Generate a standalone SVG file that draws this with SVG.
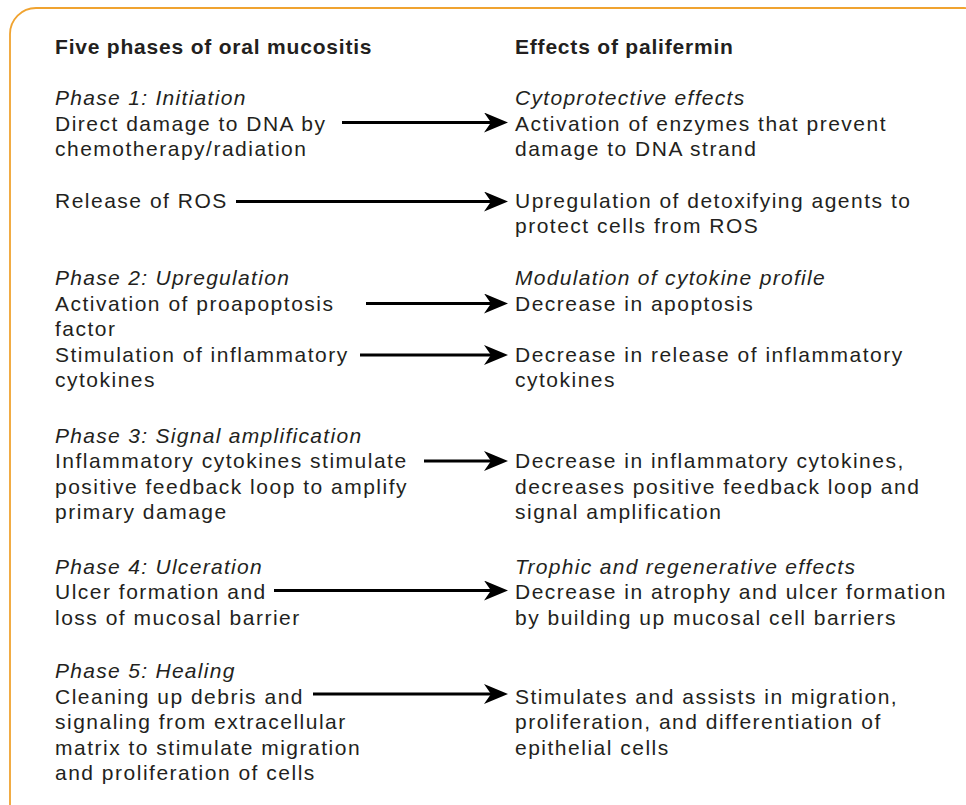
<svg xmlns="http://www.w3.org/2000/svg" width="966" height="805" viewBox="0 0 966 805">
<style>
text{font-family:"Liberation Sans",Arial,sans-serif;font-size:21px;fill:#231F20;letter-spacing:1.5px}
.h{font-weight:bold;letter-spacing:0.8px}
.i{font-style:italic;letter-spacing:1.3px}
.c{stroke:#000;stroke-width:3;fill:none;marker-end:url(#ah)}
</style>
<defs>
<marker id="ah" markerUnits="userSpaceOnUse" markerWidth="26" markerHeight="22" refX="16" refY="10" orient="auto" viewBox="0 0 26 22">
<path d="M0,0 L24,10 L0,20 L7,10 z" fill="#000"/>
</marker>
</defs>
<rect x="10" y="8" width="980" height="830" rx="26" fill="#fff" stroke="#F0A330" stroke-width="1.8"/>
<g id="headers">
<text class="h" x="55" y="54">Five phases of oral mucositis</text>
<text class="h" x="515" y="54">Effects of palifermin</text>
</g>
<g id="phase1-dna">
<text class="i" x="55" y="105">Phase 1: Initiation</text>
<text x="55" y="130.5">Direct damage to DNA by</text>
<text x="55" y="156">chemotherapy/radiation</text>
</g>
<g id="effect-enzymes">
<text class="i" x="515" y="105">Cytoprotective effects</text>
<text x="515" y="130.5">Activation of enzymes that prevent</text>
<text x="515" y="156">damage to DNA strand</text>
</g>
<g id="phase1-ros">
<text x="55" y="207.5">Release of ROS</text>
</g>
<g id="effect-detox">
<text x="515" y="207.5">Upregulation of detoxifying agents to</text>
<text x="515" y="233">protect cells from ROS</text>
</g>
<g id="phase2-apoptosis">
<text class="i" x="55" y="285">Phase 2: Upregulation</text>
<text x="55" y="310.5">Activation of proapoptosis</text>
<text x="55" y="336">factor</text>
</g>
<g id="effect-apoptosis">
<text class="i" x="515" y="285">Modulation of cytokine profile</text>
<text x="515" y="310.5">Decrease in apoptosis</text>
</g>
<g id="phase2-cytokines">
<text x="55" y="361.5">Stimulation of inflammatory</text>
<text x="55" y="387">cytokines</text>
</g>
<g id="effect-release">
<text x="515" y="361.5">Decrease in release of inflammatory</text>
<text x="515" y="387">cytokines</text>
</g>
<g id="phase3">
<text class="i" x="55" y="443">Phase 3: Signal amplification</text>
<text x="55" y="468">Inflammatory cytokines stimulate</text>
<text x="55" y="493.5">positive feedback loop to amplify</text>
<text x="55" y="519">primary damage</text>
</g>
<g id="effect-phase3">
<text x="515" y="468">Decrease in inflammatory cytokines,</text>
<text x="515" y="493.5">decreases positive feedback loop and</text>
<text x="515" y="519">signal amplification</text>
</g>
<g id="phase4">
<text class="i" x="55" y="573.5">Phase 4: Ulceration</text>
<text x="55" y="599">Ulcer formation and</text>
<text x="55" y="624.5">loss of mucosal barrier</text>
</g>
<g id="effect-phase4">
<text class="i" x="515" y="573.5">Trophic and regenerative effects</text>
<text x="515" y="599">Decrease in atrophy and ulcer formation</text>
<text x="515" y="624.5">by building up mucosal cell barriers</text>
</g>
<g id="phase5">
<text class="i" x="55" y="678">Phase 5: Healing</text>
<text x="55" y="703.5">Cleaning up debris and</text>
<text x="55" y="729">signaling from extracellular</text>
<text x="55" y="754.5">matrix to stimulate migration</text>
<text x="55" y="780">and proliferation of cells</text>
</g>
<g id="effect-phase5">
<text x="515" y="703.5">Stimulates and assists in migration,</text>
<text x="515" y="729">proliferation, and differentiation of</text>
<text x="515" y="754.5">epithelial cells</text>
</g>
<g id="connectors">
<line class="c" x1="342" y1="122.5" x2="500" y2="122.5"/>
<line class="c" x1="236" y1="201.5" x2="500" y2="201.5"/>
<line class="c" x1="366" y1="303.5" x2="500" y2="303.5"/>
<line class="c" x1="360" y1="355" x2="500" y2="355"/>
<line class="c" x1="424" y1="461" x2="500" y2="461"/>
<line class="c" x1="274" y1="590.5" x2="500" y2="590.5"/>
<line class="c" x1="313" y1="694" x2="500" y2="694"/>
</g>
</svg>
